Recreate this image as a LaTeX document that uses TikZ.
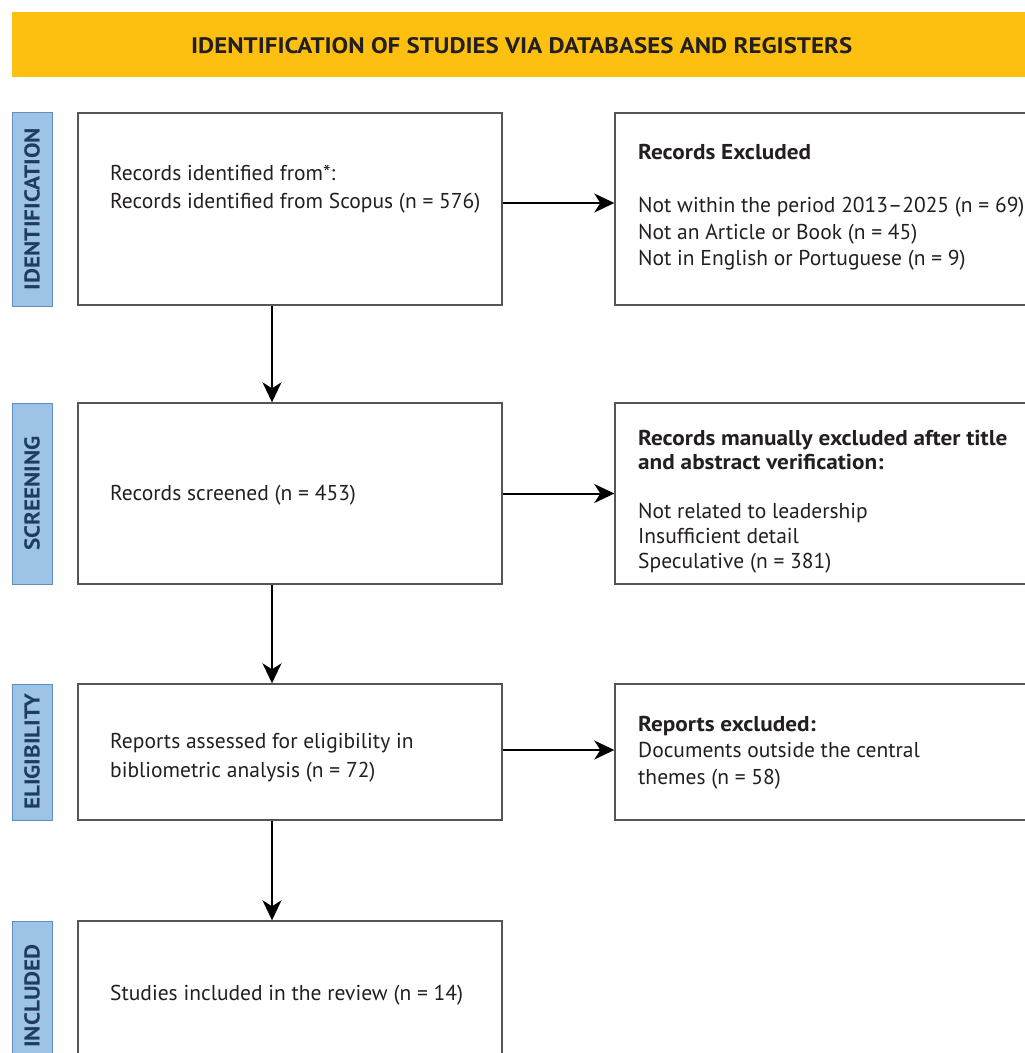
\documentclass[tikz,border=0pt]{standalone}
\usepackage{fontspec}
\setmainfont{PT Sans}[BoldFeatures={FakeStretch=1.08}]
\usetikzlibrary{arrows.meta}
\definecolor{hdr}{HTML}{FDC010}
\definecolor{lblfill}{HTML}{9DC3E6}
\definecolor{lbldraw}{HTML}{5F8FBF}
\definecolor{lbltext}{HTML}{1F3B63}
\definecolor{boxline}{HTML}{555555}
\definecolor{txt}{HTML}{231F20}
\begin{document}
\begin{tikzpicture}[x=1pt,y=-1pt,
  box/.style={draw=boxline, line width=1.4pt, fill=white, inner sep=0pt},
  lbl/.style={draw=lbldraw, line width=1pt, fill=lblfill, inner sep=0pt, rotate=90,
    minimum height=40pt, text=lbltext, font=\fontsize{21.5}{24}\selectfont\bfseries},
  txtn/.style={anchor=north west, inner sep=0pt, align=left, text=txt,
    font=\fontsize{21.5}{26.5}\selectfont},
  arr/.style={draw=black, line width=2pt, -{Stealth[length=20pt,width=19pt,inset=6pt]}}
]
\useasboundingbox (0,0) rectangle (1025,1053);
\clip (0,0) rectangle (1025,1053);

% header
\node[fill=hdr, minimum width=1019pt, minimum height=65pt, inner sep=0pt, anchor=north west] (hdr) at (12,12) {};
\node[text=txt] (hdrt) at ([yshift=-1pt]hdr.center) {\resizebox{661pt}{16pt}{\bfseries IDENTIFICATION OF STUDIES VIA DATABASES AND REGISTERS}};

% stage labels
\node[lbl, minimum width=194pt] (s1) at (32,209) {IDENTIFICATION};
\node[lbl, minimum width=181pt] (s2) at (32,493.5) {SCREENING};
\node[lbl, minimum width=136pt] (s3) at (32,752) {ELIGIBILITY};
\node[lbl, minimum width=150pt] (s4) at (32,996) {INCLUDED};

% left boxes
\node[box, minimum width=424pt, minimum height=192pt] (b1) at (290,209) {};
\node[box, minimum width=424pt, minimum height=181pt] (b2) at (290,493.5) {};
\node[box, minimum width=424pt, minimum height=136pt] (b3) at (290,752) {};
\node[box, minimum width=424pt, minimum height=160pt] (b4) at (290,1001) {};

% right boxes
\node[box, minimum width=420pt, minimum height=192pt] (r1) at (825,209) {};
\node[box, minimum width=420pt, minimum height=181pt] (r2) at (825,493.5) {};
\node[box, minimum width=420pt, minimum height=136pt] (r3) at (825,752) {};

% texts
\node[txtn] (t1) at (110,164.5) {Records identified from*:\\[1.5pt]Records identified from Scopus (n = 576)};
\node[txtn] (t2) at (110,485) {Records screened (n = 453)};
\node[txtn] (t3) at (110,733) {Reports assessed for eligibility in\\[2.5pt]bibliometric analysis (n = 72)};
\node[txtn] (t4) at (110,984.5) {Studies included in the review (n = 14)};

\node[txtn] (u1) at (638,144.5) {\textbf{Records Excluded}\\[26.5pt]Not within the period 2013–2025 (n = 69)\\Not an Article or Book (n = 45)\\Not in English or Portuguese (n = 9)};
\node[txtn, font=\fontsize{21.5}{24.5}\selectfont] (u2) at (638,430) {\textbf{Records manually excluded after title}\\\textbf{and abstract verification:}\\[24.5pt]Not related to leadership\\[0.5pt]Insufficient detail\\[0.5pt]Speculative (n = 381)};
\node[txtn] (u3) at (638,716) {\textbf{Reports excluded:}\\Documents outside the central\\themes (n = 58)};

% connectors
\draw[arr] ([yshift=6pt]b1.east) -- ([yshift=6pt]r1.west);
\draw[arr] (b2.east) -- (b2.east -| r2.west);
\draw[arr] ([yshift=2pt]b3.east) -- ([yshift=2pt]r3.west);
\draw[arr] ([xshift=-18pt]b1.south) -- ([xshift=-18pt]b2.north);
\draw[arr] ([xshift=-18pt]b2.south) -- ([xshift=-18pt]b3.north);
\draw[arr] ([xshift=-18pt]b3.south) -- ([xshift=-18pt]b3.south |- b4.north);
\end{tikzpicture}
\end{document}
